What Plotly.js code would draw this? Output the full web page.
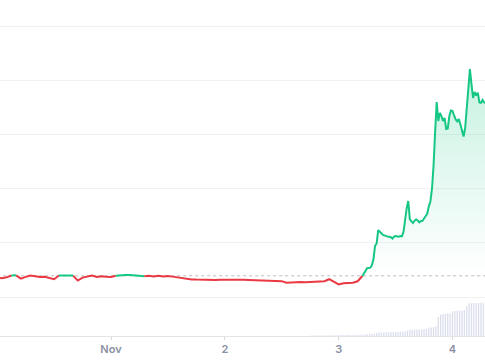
<!DOCTYPE html>
<html>
<head>
<meta charset="utf-8">
<script src="https://cdn.plot.ly/plotly-3.0.1.min.js"></script>
<style>html,body{margin:0;padding:0;background:#fff;}#chart{width:485px;height:360px;}</style>
</head>
<body>
<div id="chart"></div>
<script>
// ---- data (price in US cents) ----
const hourlyStart = '2024-10-31T00:00:00';   // 1-hour samples
const hourlyPrice = [
  1.360,1.347,1.363,1.397,1.399,1.339,1.371,1.395,1.384,1.369,1.373,1.354,1.327,1.397,1.399,1.397,
  1.395,1.303,1.358,1.380,1.395,1.371,1.384,1.373,1.369,1.391,1.402,1.406,1.408,1.404,1.399,1.384,
  1.393,1.380,1.391,1.380,1.386,1.376,1.363,1.343,1.339,1.325,1.321,1.317,1.319,1.321,1.315,1.317,
  1.319,1.315,1.314,1.312,1.317,1.315,1.310,1.314,1.308,1.306,1.301,1.297,1.292,1.262,1.269,1.275,
  1.277,1.273,1.279,1.275,1.279,1.290,1.328,1.280,1.231,1.255,1.256,1.262,1.290
];
const fineStart = '2024-11-03T05:00:00';     // 20-minute samples
const finePrice = [
  1.387,1.443,1.502,1.531,1.537,1.541,1.585,1.694,1.943,1.987,2.234,2.212,2.175,2.146,2.131,2.122,
  2.114,2.111,2.103,2.079,2.116,2.124,2.116,2.114,2.124,2.118,2.199,2.428,2.635,2.771,2.434,2.395,
  2.365,2.410,2.432,2.411,2.376,2.402,2.406,2.448,2.493,2.535,2.668,2.762,2.993,3.417,4.044,4.598,
  4.247,4.395,4.339,4.247,4.303,4.100,4.109,4.339,4.441,4.432,4.349,4.275,4.242,4.284,4.183,4.044,
  3.961,4.118,4.469,4.764,5.207,4.930,4.672,4.782,4.718,4.771,4.589,4.583,4.635,4.589,4.579
];
const openPrice = 1.391;

const volStart = '2024-11-02T18:00:00';      // 30-minute volume bars
const volume = [
  50,50,50,50,60,60,60,60,70,70,70,80,
  90,90,100,100,100,100,110,110,110,120,120,130,
  180,200,220,230,320,340,350,360,370,380,390,400,400,410,420,430,440,
  560,600,620,640,650,660,680,700,720,820,860,900,940,
  1900,2150,2200,2220,2240,2260,2450,2500,2520,2540,2560,2600,3000,3250,3280,3300,3300,3320,3320,3330
];

const tickDates  = ['2024-10-31','2024-11-01','2024-11-02','2024-11-03','2024-11-04'];
const tickLabels = ['31','Nov','2','3','4'];

// ---- helpers ----
function timeGrid(start, stepMin, n) {
  const t0 = Date.parse(start + 'Z');
  return Array.from({length: n}, (_, i) =>
    new Date(t0 + i * stepMin * 60000).toISOString().slice(0, 19).replace('T', ' '));
}
const t = timeGrid(hourlyStart, 60, hourlyPrice.length).concat(timeGrid(fineStart, 20, finePrice.length));
const p = hourlyPrice.concat(finePrice);
const vt = timeGrid(volStart, 30, volume.length);

function coloured(up) {
  const xs = [], ys = [];
  for (let i = 0; i < p.length - 1; i++) {
    const isUp = (p[i] + p[i + 1]) / 2 >= openPrice;
    if (isUp === up) {
      if (xs.length === 0 || xs[xs.length - 1] !== t[i]) {
        if (xs.length) { xs.push(null); ys.push(null); }
        xs.push(t[i]); ys.push(p[i]);
      }
      xs.push(t[i + 1]); ys.push(p[i + 1]);
    }
  }
  return {xs, ys};
}
const g = coloured(true), r = coloured(false);
const maxP = Math.max(...p);

const traces = [
  {x: vt, y: volume, type: 'bar', yaxis: 'y2', marker: {color: 'rgba(170,176,212,0.42)'}, hoverinfo: 'skip'},
  {x: t, y: t.map(() => openPrice), type: 'scatter', mode: 'lines',
   line: {color: '#bdbdbd', width: 1, dash: 'dot'}, hoverinfo: 'skip'},
  {x: t, y: p.map(v => Math.max(v, openPrice)), type: 'scatter', mode: 'lines',
   line: {width: 0}, fill: 'tonexty',
   fillgradient: {type: 'vertical', start: openPrice, stop: maxP,
     colorscale: [[0, 'rgba(22,199,132,0)'], [1, 'rgba(22,199,132,0.24)']]},
   hoverinfo: 'skip'},
  {x: r.xs, y: r.ys, type: 'scatter', mode: 'lines', line: {color: '#ea3943', width: 2}, connectgaps: false},
  {x: g.xs, y: g.ys, type: 'scatter', mode: 'lines', line: {color: '#16c784', width: 2}, connectgaps: false}
];

const layout = {
  width: 485, height: 360,
  margin: {l: 0, r: 0, t: 0, b: 24},
  paper_bgcolor: '#fff', plot_bgcolor: '#fff',
  showlegend: false,
  bargap: 0.45,
  xaxis: {
    type: 'date', range: ['2024-10-31 00:35:48', '2024-11-04 06:51:00'],
    tickmode: 'array', tickvals: tickDates, ticktext: tickLabels,
    showgrid: false, zeroline: false,
    showline: true, linecolor: '#e4e4e4', linewidth: 1,
    ticks: 'outside', ticklen: 3, tickcolor: '#d8d8d8',
    tickfont: {family: 'Inter, sans-serif', size: 11, color: '#8a90a3', weight: 600}
  },
  yaxis: {
    range: [0.2804, 6.4797], dtick: 1, tick0: 0,
    showticklabels: false, showgrid: true, gridcolor: '#f1f1f1', gridwidth: 1,
    zeroline: false, showline: false
  },
  yaxis2: {
    overlaying: 'y', range: [0, 33600], showgrid: false, showticklabels: false,
    zeroline: false, showline: false
  }
};

Plotly.newPlot('chart', traces, layout, {displayModeBar: false, staticPlot: true});
</script>
</body>
</html>
